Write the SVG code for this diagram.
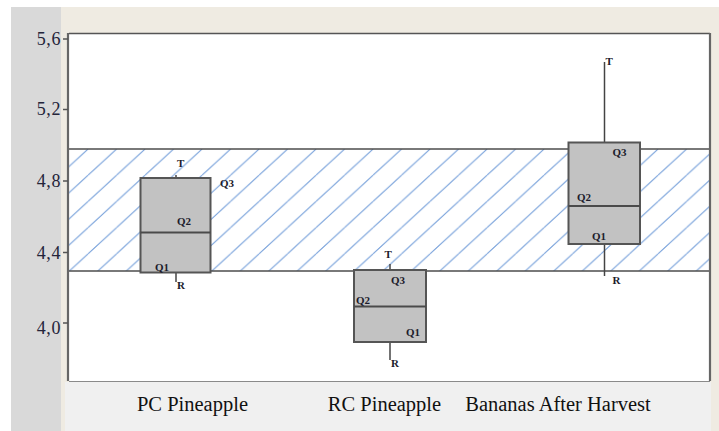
<svg xmlns="http://www.w3.org/2000/svg" width="719" height="431" viewBox="0 0 719 431">
  <defs>
    <pattern id="hatch" patternUnits="userSpaceOnUse" x="2.6" y="149" width="28.5" height="26.2">
      <path d="M-28.5,26.2 L0,0 M0,26.2 L28.5,0 M28.5,26.2 L57,0 M-14.25,39.3 L42.75,-13.1" stroke="#6f9bd8" stroke-width="1" fill="none"/>
    </pattern>
    <style>
      .ylab { font-family: "Liberation Serif", "Times New Roman", serif; font-size: 18px; letter-spacing: 0.6px; fill: #24243a; text-anchor: end; }
      .xlab { font-family: "Liberation Serif", "Times New Roman", serif; font-size: 20.5px; fill: #111111; text-anchor: middle; }
      .mark { font-family: "Liberation Serif", "Times New Roman", serif; font-size: 11px; font-weight: bold; fill: #1c1c2c; }
      .box { fill: #c2c2c2; stroke: #555555; stroke-width: 2; }
      .med { stroke: #4a4a4a; stroke-width: 2; }
      .whisk { stroke: #444444; stroke-width: 1.5; fill: none; }
      .tick { stroke: #555555; stroke-width: 1.5; }
      .band { stroke: #4d4d4d; stroke-width: 1.6; }
    </style>
  </defs>

  <!-- frame backgrounds -->
  <rect x="0" y="0" width="719" height="431" fill="#ffffff"/>
  <rect x="11" y="7" width="50" height="424" fill="#d9d9d9"/>
  <rect x="61" y="7" width="658" height="424" fill="#efebe2"/>
  <rect x="65" y="382" width="646" height="49" fill="#f0f0f0"/>

  <!-- plot area -->
  <rect id="plot-area" x="69" y="33" width="641" height="348" fill="#ffffff"/>

  <!-- reference band -->
  <g id="band">
    <rect x="69" y="149" width="641" height="122" fill="url(#hatch)"/>
    <line class="band" x1="69" y1="149" x2="710" y2="149"/>
    <line class="band" x1="69" y1="271" x2="710" y2="271"/>
  </g>

  <!-- plot borders -->
  <g id="borders">
    <line x1="69" y1="33.5" x2="710" y2="33.5" stroke="#555555" stroke-width="1.6"/>
    <line x1="68" y1="33" x2="68" y2="381" stroke="#666666" stroke-width="2.2"/>
    <line x1="710" y1="33" x2="710" y2="381" stroke="#666666" stroke-width="2.2"/>
    <line x1="69" y1="381.5" x2="710" y2="381.5" stroke="#8a8a8a" stroke-width="1"/>
  </g>

  <!-- y axis -->
  <g id="y-axis">
    <line class="tick" x1="63" y1="39" x2="68" y2="39"/>
    <line class="tick" x1="63" y1="109.5" x2="68" y2="109.5"/>
    <line class="tick" x1="63" y1="181" x2="68" y2="181"/>
    <line class="tick" x1="63" y1="252.5" x2="68" y2="252.5"/>
    <line class="tick" x1="63" y1="323" x2="68" y2="323"/>
    <text class="ylab" x="61" y="44.5">5,6</text>
    <text class="ylab" x="61" y="115">5,2</text>
    <text class="ylab" x="61" y="187">4,8</text>
    <text class="ylab" x="61" y="258.5">4,4</text>
    <text class="ylab" x="61" y="333.5">4,0</text>
  </g>

  <!-- box: PC Pineapple -->
  <g id="box-pc-pineapple">
    <line class="whisk" x1="176" y1="175" x2="176" y2="178"/>
    <line class="whisk" x1="176" y1="272" x2="176" y2="282"/>
    <rect class="box" x="140.5" y="178" width="70" height="94.5"/>
    <line class="med" x1="140.5" y1="232.5" x2="210.5" y2="232.5"/>
    <text class="mark" x="177" y="166.5">T</text>
    <text class="mark" x="220" y="187">Q3</text>
    <text class="mark" x="177" y="225">Q2</text>
    <text class="mark" x="155" y="270.5">Q1</text>
    <text class="mark" x="177" y="289">R</text>
  </g>

  <!-- box: RC Pineapple -->
  <g id="box-rc-pineapple">
    <line class="whisk" x1="390" y1="264" x2="390" y2="270"/>
    <line class="whisk" x1="390" y1="342" x2="390" y2="360"/>
    <rect class="box" x="354" y="270" width="72" height="72"/>
    <line class="med" x1="354" y1="306.5" x2="426" y2="306.5"/>
    <text class="mark" x="384.5" y="257.5">T</text>
    <text class="mark" x="391" y="284">Q3</text>
    <text class="mark" x="356" y="304">Q2</text>
    <text class="mark" x="406" y="335.5">Q1</text>
    <text class="mark" x="391" y="367">R</text>
  </g>

  <!-- box: Bananas After Harvest -->
  <g id="box-bananas">
    <line class="whisk" x1="604.5" y1="62" x2="604.5" y2="142.5"/>
    <line class="whisk" x1="604.5" y1="244" x2="604.5" y2="276"/>
    <rect class="box" x="568.5" y="142.5" width="71.5" height="101.5"/>
    <line class="med" x1="568.5" y1="206" x2="640" y2="206"/>
    <text class="mark" x="605.5" y="65">T</text>
    <text class="mark" x="612.5" y="156">Q3</text>
    <text class="mark" x="577" y="200.5">Q2</text>
    <text class="mark" x="592" y="239.5">Q1</text>
    <text class="mark" x="612.5" y="283.5">R</text>
  </g>

  <!-- connectors (none in this chart) -->
  <g id="connectors"/>

  <!-- x axis category labels -->
  <g id="x-labels">
    <text class="xlab" x="192.5" y="410.5">PC Pineapple</text>
    <text class="xlab" x="384.5" y="410.5">RC Pineapple</text>
    <text class="xlab" x="558" y="410.5">Bananas After Harvest</text>
  </g>
</svg>
